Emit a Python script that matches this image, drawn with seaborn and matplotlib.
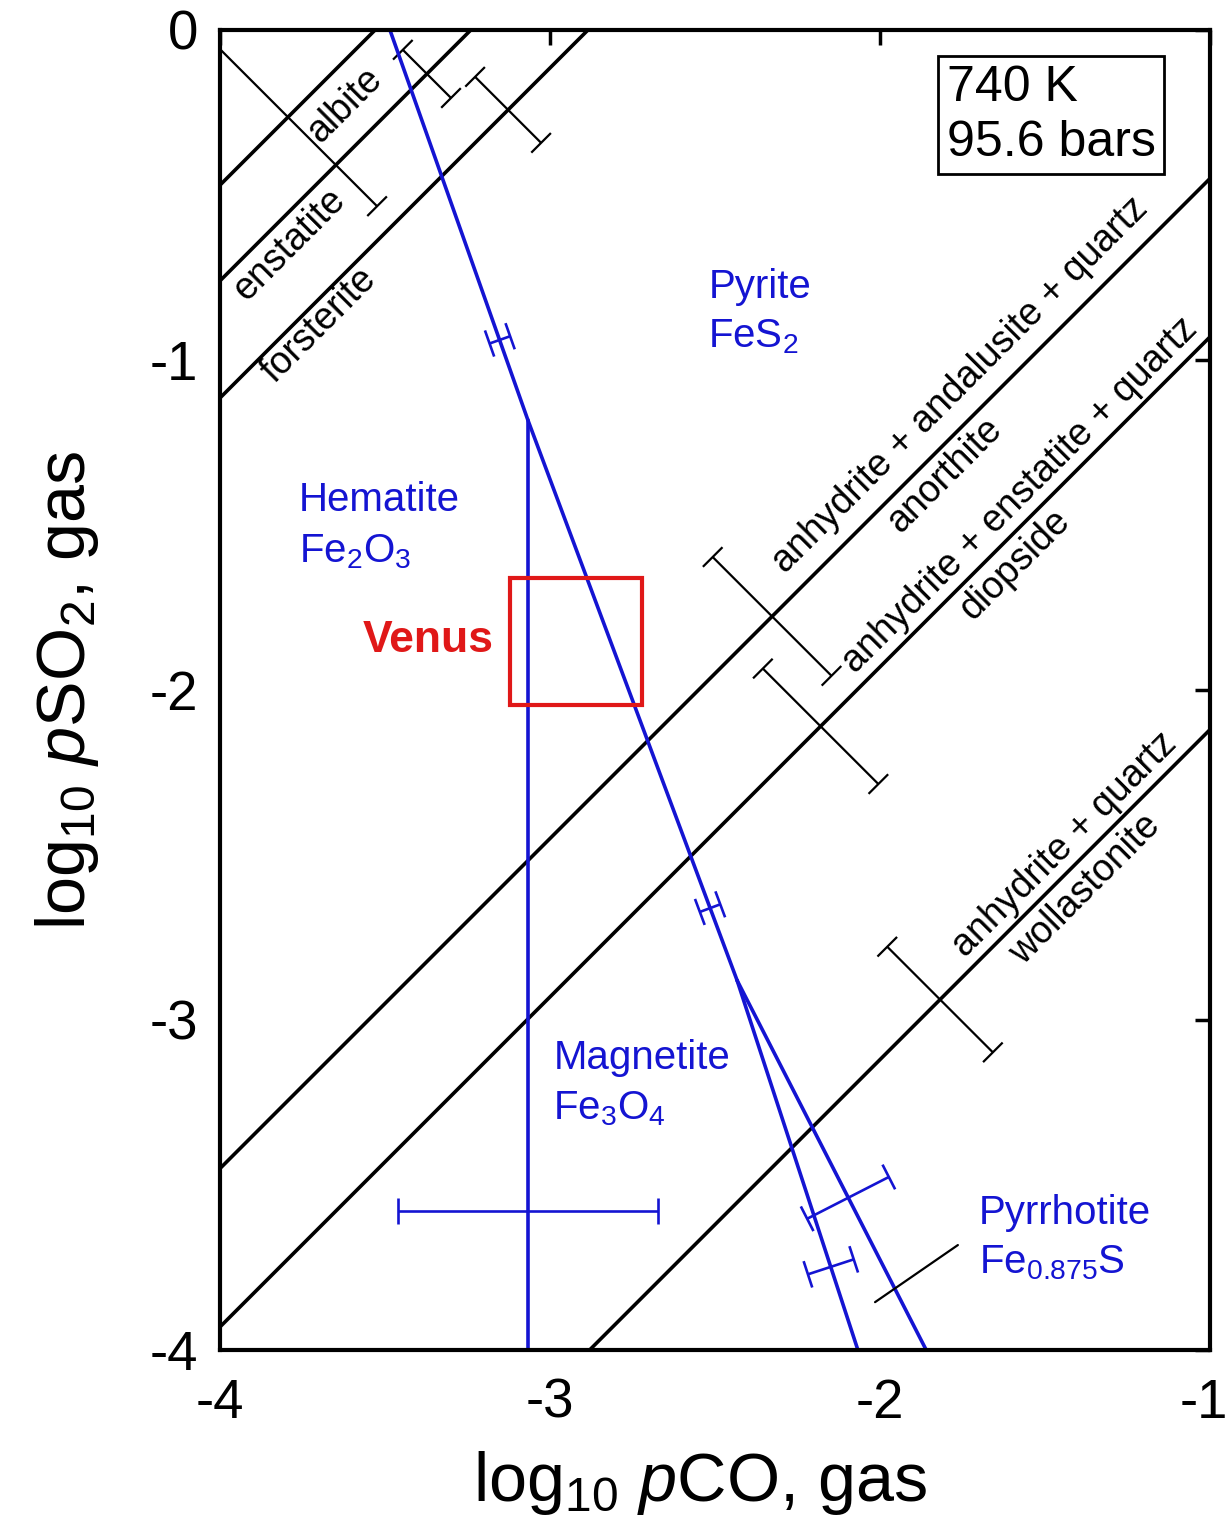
import numpy as np
import matplotlib
matplotlib.use("Agg")
import matplotlib.pyplot as plt
import matplotlib.transforms as mtransforms
import seaborn as sns
from matplotlib import font_manager

# -------------------------------
# Data (log10 pCO, log10 pSO2)
# -------------------------------
# silicate / sulfate boundaries, lines y = x + c
black_offsets = [3.53, 3.24, 2.885, 0.55, 0.07, -1.12]
# error bars on those boundaries: x of centre and half-extent (per axis)
black_bar_x = [-3.794, -3.373, -3.127, -2.327, -2.18, -1.818]
black_bar_half = [0.27, 0.073, 0.10, 0.18, 0.175, 0.16]

# iron phase boundaries
pyrite_ox_x = [-3.485, -3.067, -2.433]
pyrite_ox_y = [0.0, -1.182, -2.88]
hem_mag_x = [-3.067, -3.067]
hem_mag_y = [-1.182, -4.0]
mag_po_x = [-2.433, -2.067]
mag_po_y = [-2.88, -4.0]
py_po_x = [-2.433, -1.86]
py_po_y = [-2.88, -4.0]

# error bars on the iron boundaries (centre, half length, boundary segment)
blue_bar_x = [-3.152, -2.515, -2.097, -2.149]
blue_bar_y = [-0.939, -2.661, -3.539, -3.748]
blue_bar_half = [0.033, 0.033, 0.139, 0.073]
blue_bar_seg = ["ox1", "ox2", "py_po", "mag_po"]

# hematite/magnetite uncertainty
hm_bar_x = -3.067
hm_bar_y = -3.58
hm_bar_err = 0.395

# Venus range
venus_x = [-3.121, -2.721]
venus_y = [-2.045, -1.661]

# pyrrhotite leader line
leader_x = [-2.015, -1.764]
leader_y = [-3.855, -3.682]

# -------------------------------
# Style
# -------------------------------
sns.set_style("white")
plt.rcParams['font.family'] = ['Liberation Sans', 'DejaVu Sans']
plt.rcParams['mathtext.fontset'] = 'custom'
plt.rcParams['mathtext.rm'] = 'Liberation Sans'
plt.rcParams['mathtext.bf'] = 'Liberation Sans:bold'
plt.rcParams['axes.unicode_minus'] = False
for key in ['text.color', 'axes.labelcolor', 'xtick.color', 'ytick.color']:
    plt.rcParams[key] = 'black'

names = {f.name for f in font_manager.fontManager.ttflist}
if 'Liberation Sans Narrow' in names:
    narrow = 'Liberation Sans Narrow'
    shrink = 1.0
else:
    narrow = 'Liberation Sans'
    shrink = 0.82
plt.rcParams['mathtext.it'] = narrow + ':italic'

BLUE = '#1414d2'
RED = '#e01818'

fig = plt.figure(figsize=(12.3, 15.36), dpi=100)
ax = fig.add_axes([220 / 1230, 186 / 1536, 990 / 1230, 1320 / 1536])

# black boundaries
xs = np.array([-4.0, -1.0])
for c in black_offsets:
    sns.lineplot(x=xs, y=xs + c, color='black', lw=2.6, ax=ax,
                 estimator=None, sort=False)

def tilted_bar(xc, yc, ux, uy, half, cap, color, lw):
    # bar along (ux, uy), caps perpendicular to it
    px, py = -uy, ux
    ax.plot([xc - ux * half, xc + ux * half], [yc - uy * half, yc + uy * half],
            color=color, lw=lw, solid_capstyle='butt')
    for s in (-1, 1):
        ex, ey = xc + s * ux * half, yc + s * uy * half
        ax.plot([ex - px * cap, ex + px * cap], [ey - py * cap, ey + py * cap],
                color=color, lw=lw, solid_capstyle='butt')

r2 = np.sqrt(2)
for xb, h, c in zip(black_bar_x, black_bar_half, black_offsets):
    tilted_bar(xb, xb + c, 1 / r2, -1 / r2, h * r2, 0.042, 'black', 1.6)

# iron boundaries
for bx, by in [(pyrite_ox_x, pyrite_ox_y), (hem_mag_x, hem_mag_y),
               (mag_po_x, mag_po_y), (py_po_x, py_po_y)]:
    sns.lineplot(x=bx, y=by, color=BLUE, lw=2.6, ax=ax, estimator=None, sort=False)

segs = {
    "ox1": (pyrite_ox_x[1] - pyrite_ox_x[0], pyrite_ox_y[1] - pyrite_ox_y[0]),
    "ox2": (pyrite_ox_x[2] - pyrite_ox_x[1], pyrite_ox_y[2] - pyrite_ox_y[1]),
    "py_po": (py_po_x[1] - py_po_x[0], py_po_y[1] - py_po_y[0]),
    "mag_po": (mag_po_x[1] - mag_po_x[0], mag_po_y[1] - mag_po_y[0]),
}
for xb, yb, h, sname in zip(blue_bar_x, blue_bar_y, blue_bar_half, blue_bar_seg):
    dx, dy = segs[sname]
    n = np.hypot(dx, dy)
    # perpendicular to boundary
    tilted_bar(xb, yb, -dy / n, dx / n, h, 0.042, BLUE, 1.9)

ax.errorbar([hm_bar_x], [hm_bar_y], xerr=[hm_bar_err], color=BLUE, lw=1.9,
            capsize=9.5, capthick=1.9, fmt='none')

# Venus box
ax.add_patch(plt.Rectangle((venus_x[0], venus_y[0]), venus_x[1] - venus_x[0],
                           venus_y[1] - venus_y[0], fill=False, ec=RED, lw=3.0, zorder=5))
ax.text(-3.17, -1.85, "Venus", color=RED, fontsize=32, fontweight='bold',
        ha='right', va='center')

ax.plot(leader_x, leader_y, color='black', lw=1.6)

# phase labels
ax.text(-2.52, -0.78, "Pyrite", color=BLUE, fontsize=29, va='center')
ax.text(-2.52, -0.93, "FeS$_2$", color=BLUE, fontsize=29, va='center')
ax.text(-3.76, -1.424, "Hematite", color=BLUE, fontsize=29, va='center')
ax.text(-3.76, -1.58, "Fe$_2$O$_3$", color=BLUE, fontsize=29, va='center')
ax.text(-2.99, -3.115, "Magnetite", color=BLUE, fontsize=29, va='center')
ax.text(-2.99, -3.27, "Fe$_3$O$_4$", color=BLUE, fontsize=29, va='center')
ax.text(-1.70, -3.585, "Pyrrhotite", color=BLUE, fontsize=29, va='center')
ax.text(-1.70, -3.735, "Fe$_{0.875}$S", color=BLUE, fontsize=29, va='center')

# mineral labels along boundaries
rot_labels = [
    ("albite", -3.62, -0.227),
    ("enstatite", -3.79, -0.65),
    ("forsterite", -3.70, -0.894),
    ("anhydrite + andalusite + quartz", -1.758, -1.076),
    ("anorthite", -1.803, -1.348),
    ("anhydrite + enstatite + quartz", -1.576, -1.409),
    ("diopside", -1.59, -1.62),
    ("anhydrite + quartz", -1.44, -2.47),
    ("wollastonite", -1.379, -2.606),
]
for txt, tx, ty in rot_labels:
    ax.text(tx, ty, txt, fontsize=27, rotation=45, rotation_mode='anchor',
            ha='center', va='center')

ax.text(-1.482, -0.258, "740 K\n95.6 bars", fontsize=36, ha='center', va='center',
        multialignment='left', linespacing=1.25,
        bbox=dict(boxstyle='square,pad=0.17', fc='white', ec='black', lw=2))

# axes
ax.set_xlim(-4, -1)
ax.set_ylim(-4, 0)
ax.set_xticks([-4, -3, -2, -1])
ax.set_yticks([-4, -3, -2, -1, 0])
for s in ax.spines.values():
    s.set_linewidth(3)
    s.set_color('black')
ax.tick_params(direction='in', length=11, width=2.5, top=True, right=True,
               labelsize=48 * shrink, labelfontfamily=narrow)
ax.tick_params(axis='x', pad=20)
ax.tick_params(axis='y', pad=16)

# keep the last x tick label inside the canvas
last = ax.xaxis.get_major_ticks()[-1].label1
last.set_horizontalalignment('right')
last.set_transform(last.get_transform() +
                   mtransforms.ScaledTranslation(18 / 100, 0, fig.dpi_scale_trans))

ax.set_xlabel(r"log$\mathregular{_{10}}$ $\mathit{p}$CO, gas", fontsize=60 * shrink,
              family=narrow)
ax.set_ylabel(r"log$\mathregular{_{10}}$ $\mathit{p}$SO$\mathregular{_2}$, gas",
              fontsize=60 * shrink, family=narrow)
ax.xaxis.set_label_coords(0.485, -0.075)
ax.yaxis.set_label_coords(-0.12, 0.5)

fig.savefig("out.png", dpi=100, facecolor='white')
